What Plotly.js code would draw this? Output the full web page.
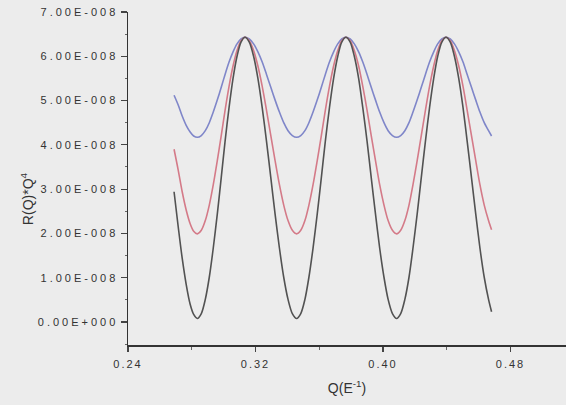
<!DOCTYPE html>
<html>
<head>
<meta charset="utf-8">
<script src="https://cdn.plot.ly/plotly-3.0.1.min.js"></script>
<style>
  html, body { margin: 0; padding: 0; background: #ececec; }
  #chart { width: 566px; height: 405px; }
  .ytick text { letter-spacing: 3px; }
  .xtick text { letter-spacing: 2px; }
</style>
</head>
<body>
<div id="chart"></div>
<script>
// Q values (E^-1)
const Q = [0.2689, 0.2715, 0.2740, 0.2765, 0.2790, 0.2812, 0.2835,
  0.2860, 0.2885, 0.2910, 0.2935, 0.2960, 0.2985, 0.3009, 0.3034, 0.3059, 0.3084, 0.3109, 0.3134,
  0.3161, 0.3188, 0.3215, 0.3242, 0.3269, 0.3296, 0.3323, 0.3350, 0.3377, 0.3404, 0.3431, 0.3458,
  0.3484, 0.3510, 0.3535, 0.3561, 0.3587, 0.3613, 0.3638, 0.3664, 0.3690, 0.3716, 0.3741, 0.3767,
  0.3794, 0.3820, 0.3847, 0.3873, 0.3900, 0.3926, 0.3953, 0.3979, 0.4006, 0.4032, 0.4059, 0.4085,
  0.4111, 0.4137, 0.4163, 0.4188, 0.4214, 0.4240, 0.4266, 0.4292, 0.4318, 0.4343, 0.4369, 0.4395,
  0.4422, 0.4448, 0.4475, 0.4502, 0.4528, 0.4555, 0.4582, 0.4608, 0.4635, 0.4662, 0.4681];

// R(Q)*Q^4 in units of 1E-008
const blueSeries = [5.12, 4.90, 4.65, 4.44, 4.29, 4.20, 4.17,
  4.21, 4.32, 4.50, 4.74, 5.01, 5.30, 5.59, 5.87, 6.10, 6.28, 6.39, 6.43,
  6.39, 6.28, 6.10, 5.87, 5.59, 5.30, 5.01, 4.74, 4.50, 4.32, 4.21, 4.17,
  4.21, 4.32, 4.50, 4.74, 5.01, 5.30, 5.59, 5.87, 6.10, 6.28, 6.39, 6.43,
  6.39, 6.28, 6.10, 5.87, 5.59, 5.30, 5.01, 4.74, 4.50, 4.32, 4.21, 4.17,
  4.21, 4.32, 4.50, 4.74, 5.01, 5.30, 5.59, 5.87, 6.10, 6.28, 6.39, 6.43,
  6.39, 6.28, 6.10, 5.87, 5.59, 5.30, 5.01, 4.74, 4.50, 4.32, 4.20];

const redSeries = [3.90, 3.43, 2.94, 2.53, 2.22, 2.05, 1.99,
  2.07, 2.29, 2.64, 3.10, 3.64, 4.21, 4.78, 5.32, 5.78, 6.13, 6.35, 6.43,
  6.35, 6.13, 5.78, 5.32, 4.78, 4.21, 3.64, 3.10, 2.64, 2.29, 2.07, 1.99,
  2.07, 2.29, 2.64, 3.10, 3.64, 4.21, 4.78, 5.32, 5.78, 6.13, 6.35, 6.43,
  6.35, 6.13, 5.78, 5.32, 4.78, 4.21, 3.64, 3.10, 2.64, 2.29, 2.07, 1.99,
  2.07, 2.29, 2.64, 3.10, 3.64, 4.21, 4.78, 5.32, 5.78, 6.13, 6.35, 6.43,
  6.35, 6.13, 5.78, 5.32, 4.78, 4.21, 3.64, 3.10, 2.64, 2.29, 2.08];

const blackSeries = [2.94, 2.15, 1.44, 0.85, 0.40, 0.17, 0.08,
  0.19, 0.51, 1.01, 1.67, 2.43, 3.26, 4.08, 4.84, 5.50, 6.00, 6.32, 6.43,
  6.32, 6.00, 5.50, 4.84, 4.08, 3.26, 2.43, 1.67, 1.01, 0.51, 0.19, 0.08,
  0.19, 0.51, 1.01, 1.67, 2.43, 3.26, 4.08, 4.84, 5.50, 6.00, 6.32, 6.43,
  6.32, 6.00, 5.50, 4.84, 4.08, 3.26, 2.43, 1.67, 1.01, 0.51, 0.19, 0.08,
  0.19, 0.51, 1.01, 1.67, 2.43, 3.26, 4.08, 4.84, 5.50, 6.00, 6.32, 6.43,
  6.32, 6.00, 5.50, 4.84, 4.08, 3.26, 2.43, 1.67, 1.01, 0.51, 0.23];

const yTickVals = [0, 1, 2, 3, 4, 5, 6, 7];
const yTickText = ["0.00E+000", "1.00E-008", "2.00E-008", "3.00E-008",
  "4.00E-008", "5.00E-008", "6.00E-008", "7.00E-008"];
const xTickVals = [0.24, 0.32, 0.40, 0.48];
const xTickText = ["0.24", "0.32", "0.40", "0.48"];

const lineStyle = (c) => ({ color: c, width: 1.6, shape: 'spline', smoothing: 0.8 });

const traces = [
  { x: Q, y: blueSeries, type: 'scatter', mode: 'lines', line: lineStyle('#7f86c9'), showlegend: false },
  { x: Q, y: redSeries, type: 'scatter', mode: 'lines', line: lineStyle('#d47a88'), showlegend: false },
  { x: Q, y: blackSeries, type: 'scatter', mode: 'lines', line: lineStyle('#525252'), showlegend: false }
];

const tickFont = { family: 'Liberation Sans, Arial, sans-serif', size: 11, color: '#333333' };

const layout = {
  width: 566, height: 405,
  paper_bgcolor: '#ececec', plot_bgcolor: '#ececec',
  margin: { l: 128, r: 0, t: 12, b: 60 },
  showlegend: false,
  xaxis: {
    range: [0.24, 0.5148],
    tickmode: 'array', tickvals: xTickVals, ticktext: xTickText,
    ticks: 'outside', ticklen: 5, tickwidth: 1.2, tickcolor: '#444',
    ticklabelstandoff: 3,
    minor: { tickmode: 'linear', tick0: 0.28, dtick: 0.08, ticks: 'outside', ticklen: 3, tickwidth: 1, tickcolor: '#666' },
    showline: true, linecolor: '#333', linewidth: 1.5,
    showgrid: false, zeroline: false,
    tickfont: tickFont,
    title: { text: 'Q(E<sup>-1</sup>)', font: { family: 'Liberation Sans, Arial, sans-serif', size: 14, color: '#333' }, standoff: 14 }
  },
  yaxis: {
    range: [-0.52, 7.0],
    tickmode: 'array', tickvals: yTickVals, ticktext: yTickText,
    ticks: 'outside', ticklen: 6, tickwidth: 1.2, tickcolor: '#444',
    minor: { tickmode: 'linear', tick0: 0.5, dtick: 1, ticks: 'outside', ticklen: 2, tickwidth: 1, tickcolor: '#666' },
    showline: true, linecolor: '#333', linewidth: 1.5,
    showgrid: false, zeroline: false,
    tickfont: tickFont
  },
  annotations: [{
    text: 'R(Q)*Q<sup>4</sup>', xref: 'paper', yref: 'paper',
    x: -0.2306, y: 0.441, textangle: -90, showarrow: false,
    xanchor: 'center', yanchor: 'middle',
    font: { family: 'Liberation Sans, Arial, sans-serif', size: 14, color: '#333' }
  }]
};

Plotly.newPlot('chart', traces, layout, { displayModeBar: false, staticPlot: true });
</script>
</body>
</html>
